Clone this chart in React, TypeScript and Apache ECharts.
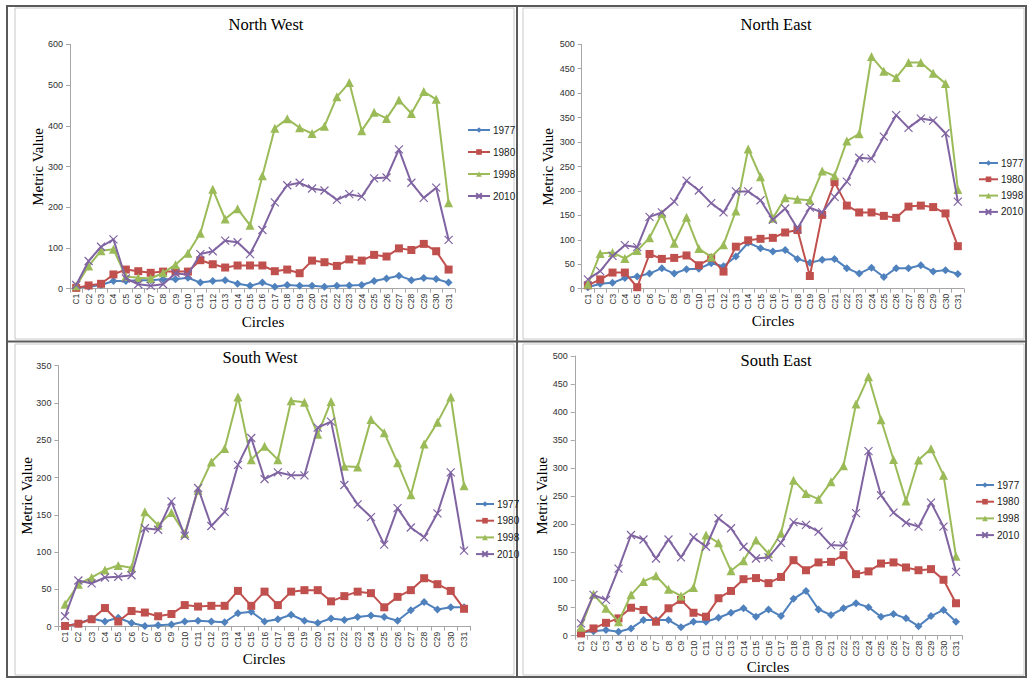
import React, { useEffect, useRef } from "react";
import * as echarts from "echarts";

const categories = ["C1","C2","C3","C4","C5","C6","C7","C8","C9","C10","C11","C12","C13","C14","C15","C16","C17","C18","C19","C20","C21","C22","C23","C24","C25","C26","C27","C28","C29","C30","C31"];
const years = ["1977", "1980", "1998", "2010"];
const panelTitles = ["North West", "North East", "South West", "South East"];
const yMax = [600, 500, 350, 500];
const yInterval = [100, 50, 50, 50];

const nw1977 = [3,5,9,19,19,21,21,23,23,27,15,19,21,12,7,15,5,9,7,7,5,7,8,9,19,25,32,21,26,24,15];
const nw1980 = [2,8,12,35,47,43,39,42,42,42,70,60,52,57,57,57,43,47,38,69,65,56,72,69,83,79,99,95,110,92,47];
const nw1998 = [7,56,93,97,30,27,25,39,59,87,136,244,171,196,156,277,394,417,395,381,399,471,506,388,433,418,463,430,484,465,211];
const nw2010 = [9,68,103,121,25,11,7,11,38,34,85,92,118,114,85,144,212,254,260,246,241,218,232,226,271,273,342,260,223,248,120];

const ne1977 = [3,10,12,22,25,31,42,31,40,41,52,46,66,94,83,76,79,61,53,59,61,42,31,43,24,42,42,48,35,38,30];
const ne1980 = [7,19,33,33,3,71,61,63,68,48,63,35,86,99,102,104,115,120,26,151,218,170,156,156,149,145,168,170,167,154,87];
const ne1998 = [9,72,74,62,78,104,154,93,146,82,65,90,159,286,229,144,186,183,181,241,231,302,317,475,445,432,463,463,441,420,203];
const ne2010 = [19,36,67,89,85,147,156,178,221,201,175,156,199,199,181,141,164,123,166,156,188,219,268,266,311,355,329,348,344,318,178];

const sw1977 = [1,4,11,7,12,5,1,2,3,7,8,7,6,18,20,7,10,16,8,5,11,9,13,15,13,8,22,33,23,26,26];
const sw1980 = [1,4,10,25,7,21,19,14,17,29,27,28,28,48,28,47,29,47,49,49,34,41,47,45,26,40,49,65,57,48,24];
const sw1998 = [30,57,66,76,82,79,154,136,153,125,183,221,239,308,224,242,224,303,301,258,302,215,214,278,260,220,177,245,274,308,189];
const sw2010 = [14,62,58,66,67,69,132,130,168,122,186,135,154,217,253,198,207,203,203,267,275,190,164,147,110,159,133,120,152,207,102];

const se1977 = [6,8,10,7,13,28,28,28,15,25,25,32,41,49,34,47,35,66,80,47,37,49,58,51,34,39,31,17,35,46,25];
const se1980 = [4,13,23,31,50,46,25,49,64,41,34,67,80,101,103,94,105,135,117,131,132,144,110,115,129,131,122,117,119,100,58];
const se1998 = [15,74,49,25,73,97,107,83,71,86,180,166,116,134,171,147,183,278,254,244,275,304,414,463,386,315,241,314,334,287,142];
const se2010 = [22,73,64,120,180,172,138,172,140,176,159,210,192,159,138,140,166,203,198,186,162,161,219,330,251,220,202,195,238,195,114];

const panelData = [
  [nw1977, nw1980, nw1998, nw2010],
  [ne1977, ne1980, ne1998, ne2010],
  [sw1977, sw1980, sw1998, sw2010],
  [se1977, se1980, se1998, se2010],
];

const colors = ["#4F81BD", "#C0504D", "#9BBB59", "#8064A2"];
const symbols = ["diamond", "rect", "triangle", "path://M0,0L10,10M10,0L0,10"];
const symbolSizes = [8, 8, 9, 8];

const grids = [
  { left: 70, top: 44.3, width: 384.8, height: 244.4 },
  { left: 581.7, top: 44.3, width: 382.3, height: 244.4 },
  { left: 58.4, top: 365.7, width: 412.3, height: 261 },
  { left: 574.75, top: 356, width: 387.5, height: 279.7 },
];
const titlePos = [[266, 24], [776, 24], [260, 357], [776, 360]];
const yNamePos = [[38, 167], [548, 167], [27, 496], [542, 496]];
const xNamePos = [[263, 322], [773, 321], [264, 659], [768, 667]];
const legendPos = [
  { left: 467, top: 124, itemWidth: 22, itemGap: 10 },
  { left: 978, top: 157, itemWidth: 19, itemGap: 4.3 },
  { left: 475, top: 498, itemWidth: 18, itemGap: 4.7 },
  { left: 975, top: 479, itemWidth: 18, itemGap: 4.7 },
];

const serif = "'Liberation Serif', 'Times New Roman', serif";
const sans = "'Liberation Sans', Arial, sans-serif";

function textEl(text: string, x: number, y: number, size: number, rotate = false) {
  return {
    type: "text",
    x,
    y,
    rotation: rotate ? Math.PI / 2 : 0,
    style: {
      text,
      fill: "#000",
      fontFamily: serif,
      fontSize: size,
      align: "center",
      verticalAlign: "middle",
      textAlign: "center",
      textVerticalAlign: "middle",
    },
    silent: true,
  };
}

export default function App() {
  const ref = useRef<HTMLDivElement>(null);
  useEffect(() => {
    document.body.style.margin = "0";
    if (!ref.current) return;
    const chart = echarts.init(ref.current, null, { renderer: "svg" });
    const axisColor = "#A6A6A6";
    const series: any[] = [];
    panelData.forEach((group, p) => {
      group.forEach((vals, k) => {
        const isX = k === 3;
        series.push({
          name: years[k],
          type: "line",
          xAxisIndex: p,
          yAxisIndex: p,
          data: vals,
          symbol: symbols[k],
          symbolSize: symbolSizes[k],
          showAllSymbol: true,
          lineStyle: { color: colors[k], width: 2 },
          itemStyle: isX
            ? { color: "rgba(0,0,0,0)", borderColor: colors[k], borderWidth: 1.2 }
            : { color: colors[k], borderColor: colors[k], borderWidth: 0 },
          emphasis: { disabled: true },
          z: 2 + k,
        });
      });
    });

    const graphics: any[] = [];
    graphics.push({ type: "rect", shape: { x: 7, y: 6, width: 1019, height: 671 }, style: { fill: "none", stroke: "#5a5a5a", lineWidth: 2 }, silent: true });
    graphics.push({ type: "line", shape: { x1: 517, y1: 6, x2: 517, y2: 677 }, style: { stroke: "#5a5a5a", lineWidth: 2 }, silent: true });
    graphics.push({ type: "line", shape: { x1: 7, y1: 341.5, x2: 1026, y2: 341.5 }, style: { stroke: "#5a5a5a", lineWidth: 2 }, silent: true });
    const inner = [
      [15, 8, 499, 331],
      [523, 8, 501, 331],
      [15, 344, 499, 331],
      [523, 344, 501, 331],
    ];
    inner.forEach(([x, y, w, h]) => {
      graphics.push({ type: "rect", shape: { x, y, width: w, height: h }, style: { fill: "none", stroke: "#c8c8c8", lineWidth: 1 }, silent: true });
    });
    panelTitles.forEach((t, p) => {
      graphics.push(textEl(t, titlePos[p][0], titlePos[p][1], 16.5));
      graphics.push(textEl("Metric Value", yNamePos[p][0], yNamePos[p][1], 15, true));
      graphics.push(textEl("Circles", xNamePos[p][0], xNamePos[p][1], 15));
    });

    chart.setOption({
      animation: false,
      backgroundColor: "#ffffff",
      grid: grids.map((g) => ({ ...g, containLabel: false })),
      xAxis: grids.map((_, p) => ({
        type: "category",
        gridIndex: p,
        data: categories,
        boundaryGap: true,
        axisLine: { show: true, lineStyle: { color: axisColor, width: 1 } },
        axisTick: { show: true, alignWithLabel: false, interval: 0, length: 4, lineStyle: { color: axisColor } },
        axisLabel: { interval: 0, rotate: 90, fontSize: 8.5, color: "#303030", fontFamily: sans, margin: 5 },
        splitLine: { show: false },
      })),
      yAxis: grids.map((_, p) => ({
        type: "value",
        gridIndex: p,
        min: 0,
        max: yMax[p],
        interval: yInterval[p],
        axisLine: { show: true, lineStyle: { color: axisColor, width: 1 } },
        axisTick: { show: true, length: 4, lineStyle: { color: axisColor } },
        axisLabel: { fontSize: 9, color: "#303030", fontFamily: sans, margin: 7 },
        splitLine: { show: false },
      })),
      legend: legendPos.map((l) => ({
        orient: "vertical",
        left: l.left,
        top: l.top,
        padding: 0,
        itemWidth: l.itemWidth,
        itemHeight: 7,
        itemGap: l.itemGap,
        data: years,
        selectedMode: false,
        textStyle: { fontSize: 10, color: "#202020", fontFamily: sans, lineHeight: 12, padding: [0, 0, 0, -2] },
      })),
      series,
      graphic: graphics,
    });
    return () => chart.dispose();
  }, []);
  return <div ref={ref} style={{ width: 1030, height: 682 }} />;
}
